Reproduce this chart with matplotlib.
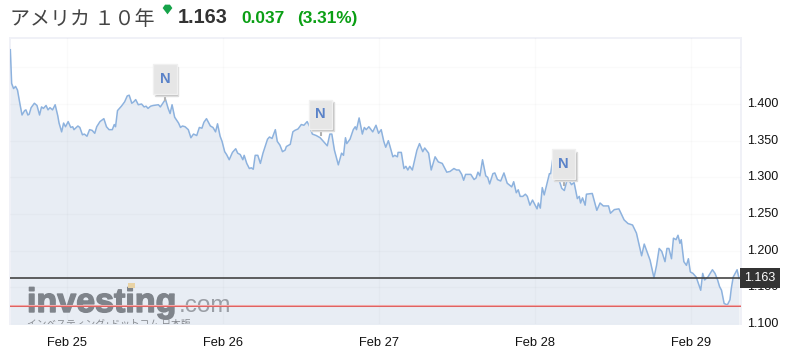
import matplotlib
matplotlib.use('Agg')
import matplotlib.pyplot as plt
import matplotlib.patheffects as pe
from matplotlib.lines import Line2D
from matplotlib.patches import Rectangle

plt.rcParams['font.family'] = ['Liberation Sans', 'DejaVu Sans']

# hours since Feb 25 00:00, and the yield
hours = [-8.8,-8.6,-8.3,-8.0,-7.7,-7.3,-7.0,-6.6,-6.4,-6.1,-5.9,-5.6,-5.1,-4.7,-4.3,-4.0,-3.7,-3.3,-3.0,-2.7,-2.3,-1.9,-1.5,-1.3,-0.9,-0.6,-0.3,0.1,0.5,0.8,1.0,1.6,1.9,2.3,2.6,3.0,3.4,3.8,4.2,4.5,5.0,5.6,6.0,6.4,6.9,7.2,7.4,7.7,8.3,8.8,9.2,9.5,9.9,10.2,10.5,10.9,11.4,11.8,12.1,12.4,12.8,13.2,14.0,14.3,14.9,15.1,15.5,15.8,16.1,16.5,17.1,17.4,17.7,
         18.1,18.6,19.0,19.4,19.9,20.3,20.7,21.0,21.4,22.0,22.4,22.8,23.1,23.5,23.8,24.2,24.5,24.9,25.4,25.9,26.2,26.6,27.0,27.2,27.6,28.0,28.3,28.6,28.9,29.3,29.7,30.1,30.8,31.1,31.5,32.0,32.3,32.7,33.1,33.5,33.7,34.3,34.7,35.0,35.5,36.0,36.4,36.9,37.3,37.7,38.3,38.9,39.4,40.0,40.4,40.7,41.1,41.7,42.2,42.5,42.8,43.0,43.5,44.0,44.3,
         44.5,44.9,45.4,45.7,46.0,46.4,47.0,47.5,47.9,48.3,48.7,49.0,49.4,49.6,50.1,50.4,50.8,50.9,51.4,51.8,52.1,52.4,52.7,53.1,53.8,54.2,54.7,55.0,55.6,56.0,56.6,57.1,57.7,58.4,58.9,59.5,59.9,60.3,60.7,61.0,61.3,62.1,62.6,62.9,63.2,63.5,63.9,64.4,64.7,65.0,65.5,65.8,66.2,66.7,67.2,67.7,68.4,68.7,69.1,69.4,69.7,70.1,70.5,70.8,71.2,71.6,72.3,72.5,72.8,73.1,73.4,73.9,74.2,74.4,74.7,
         75.6,76.1,76.5,77.0,77.6,78.0,78.5,78.8,79.0,79.3,79.7,79.9,80.8,81.5,82.0,82.5,83.3,83.6,84.2,84.9,85.7,86.3,87.0,87.6,88.1,88.4,88.8,89.7,90.3,90.7,91.1,91.5,92.0,92.3,92.6,93.0,93.3,93.7,94.0,94.3,94.5,94.9,95.3,95.6,95.9,96.3,96.8,97.5,97.8,98.1,98.6,99.3,99.7,100.1,100.4,100.7,101.1,101.6,102.0,102.2,102.5,103.1,103.4]
values = [1.474,1.428,1.421,1.424,1.419,1.399,1.385,1.391,1.392,1.385,1.386,1.395,1.401,1.398,1.385,1.396,1.394,1.398,1.392,1.395,1.392,1.399,1.384,1.374,1.362,1.374,1.369,1.376,1.368,1.369,1.365,1.370,1.368,1.358,1.359,1.356,1.365,1.364,1.360,1.369,1.376,1.380,1.369,1.365,1.365,1.372,1.369,1.391,1.397,1.403,1.411,1.412,1.401,1.403,1.406,1.399,1.400,1.396,1.397,1.394,1.397,1.398,1.399,1.396,1.404,1.406,1.394,1.387,1.399,1.382,1.374,1.368,1.370,
          1.369,1.365,1.354,1.359,1.357,1.368,1.367,1.375,1.380,1.370,1.368,1.362,1.373,1.356,1.349,1.335,1.331,1.324,1.334,1.339,1.333,1.331,1.324,1.330,1.319,1.312,1.313,1.311,1.330,1.330,1.319,1.333,1.352,1.355,1.353,1.365,1.349,1.344,1.335,1.337,1.342,1.345,1.362,1.364,1.366,1.372,1.371,1.376,1.369,1.359,1.357,1.354,1.349,1.343,1.359,1.359,1.337,1.317,1.333,1.330,1.354,1.346,1.352,1.365,1.369,
          1.365,1.381,1.359,1.368,1.365,1.369,1.362,1.371,1.360,1.365,1.349,1.341,1.350,1.344,1.328,1.330,1.328,1.334,1.334,1.312,1.315,1.310,1.315,1.310,1.337,1.346,1.335,1.340,1.333,1.310,1.328,1.321,1.319,1.307,1.308,1.312,1.310,1.310,1.304,1.296,1.304,1.304,1.297,1.299,1.307,1.302,1.324,1.302,1.300,1.291,1.305,1.306,1.297,1.295,1.306,1.292,1.287,1.294,1.279,1.283,1.274,1.274,1.277,1.274,1.262,1.269,1.257,1.265,1.258,1.286,1.276,1.294,1.305,1.305,1.324,
          1.299,1.285,1.282,1.299,1.290,1.293,1.271,1.274,1.265,1.272,1.262,1.277,1.278,1.255,1.265,1.261,1.261,1.251,1.256,1.257,1.242,1.237,1.235,1.224,1.205,1.193,1.209,1.187,1.163,1.180,1.203,1.199,1.185,1.203,1.203,1.189,1.217,1.215,1.221,1.210,1.215,1.185,1.180,1.189,1.171,1.169,1.164,1.146,1.169,1.160,1.164,1.174,1.169,1.160,1.151,1.146,1.128,1.126,1.133,1.148,1.164,1.174,1.162]

day_ticks = [0, 24, 48, 72, 96]
day_labels = ['Feb 25', 'Feb 26', 'Feb 27', 'Feb 28', 'Feb 29']
y_ticks = [1.10, 1.15, 1.20, 1.25, 1.30, 1.35, 1.40, 1.45]
y_labels = ['1.100', '1.150', '1.200', '1.250', '1.300', '1.350', '1.400', '']

news_hours = [15.0, 39.0, 76.4]
news_values = [1.406, 1.358, 1.290]

last_price = 1.163
low_price = 1.1245

W, H = 789, 356
fig = plt.figure(figsize=(W / 100, H / 100), dpi=100)
ax = fig.add_axes([9.5 / W, (H - 324) / H, 731.5 / W, 286 / H])
ax.set_xlim(-8.93, 103.7)
ax.set_ylim(1.10, 1.49)

ax.fill_between(hours, values, 1.0, color='#e8edf4', lw=0, zorder=1)
ax.grid(True, color='black', alpha=0.018, lw=1, zorder=2)
ax.set_axisbelow(False)
ax.plot(hours, values, color='#8db2de', lw=1.1, zorder=3)

ax.axhline(low_price, color='#f0a8a8', lw=1.5, zorder=5)
ax.axhline(low_price, color='#e0605f', lw=0.7, zorder=5)
ax.axhline(last_price, color='#444444', lw=1.2, zorder=5)

ax.set_xticks(day_ticks)
ax.set_xticklabels(day_labels, fontsize=9.3, color='#111111')
ax.yaxis.tick_right()
ax.set_yticks(y_ticks)
ax.set_yticklabels(y_labels, fontsize=9.0, color='#111111', va='center')
ax.tick_params(axis='x', length=0, pad=9.5)
ax.tick_params(axis='y', length=0, pad=4.5)
for s in ax.spines.values():
    s.set_color('#f0f1f7')
    s.set_linewidth(1.4)
ax.spines['bottom'].set_visible(False)

# news pins
box_w = 3.6
box_h = 0.040
for h, v in zip(news_hours, news_values):
    base = v + 0.008
    ax.plot([h, h], [v, base], color='#b0b0b0', lw=1.5, zorder=6)
    ax.add_patch(Rectangle((h - box_w / 2 + 0.25, base - 0.003), box_w, box_h, fc='#b8b8b8', ec='#dddddd', lw=1, zorder=6))
    ax.add_patch(Rectangle((h - box_w / 2, base), box_w, box_h, fc='#e6e6e6', ec='#f0f0f0', lw=1, zorder=7))
    ax.text(h, base + box_h / 2, 'N', color='#5a82c8', fontsize=10.5, fontweight='bold', ha='center', va='center', zorder=8)

# price tag on the axis
ytrans = ax.get_yaxis_transform()
ax.text(1.0045, last_price, '1.163', transform=ytrans, color='white', fontsize=9.0, va='center', ha='left', zorder=10,
        clip_on=False, bbox=dict(boxstyle='square,pad=0.32', fc='#333333', ec='none'))

# watermark
ax.text(17.5 / 731.5, 12 / 286, 'investing', transform=ax.transAxes, color='#7f848b', fontsize=24.5, fontweight='bold',
        ha='left', va='baseline', zorder=4, path_effects=[pe.withStroke(linewidth=1, foreground='#7f848b')])
ax.text(169 / 731.5, 12 / 286, '.com', transform=ax.transAxes, color='#9a9ea5', fontsize=17.5,
        ha='left', va='baseline', zorder=4)
ax.text(17.5 / 731.5, -3 / 286, 'インベスティング·ドットコム 日本版', transform=ax.transAxes, color='#85898f', fontsize=7,
        family=['Noto Sans CJK JP', 'DejaVu Sans'], ha='left', va='baseline', zorder=4, clip_on=True)
ax.add_patch(Rectangle((118.5 / 731.5, 36 / 286), 7 / 731.5, 5 / 286, transform=ax.transAxes, fc='#e9d3a5', ec='none', zorder=4))

# header
fig.text(10 / W, 1 - 25 / H, 'アメリカ １０年', fontsize=14.4, color='#444444', family=['Noto Sans CJK JP', 'DejaVu Sans'],
         ha='left', va='baseline')
fig.add_artist(Line2D([167 / W], [1 - 8.5 / H], marker=[(-1, 0.3), (-0.5, 1), (0.5, 1), (1, 0.3), (0, -1)], ms=7,
                      color='#16a34a', mec='none', ls='none', transform=fig.transFigure))
fig.text(178 / W, 1 - 23 / H, '1.163', fontsize=14.4, fontweight='bold', color='#333333', ha='left', va='baseline')
fig.text(241 / W, 1 - 23 / H, '0.037', fontsize=12.4, fontweight='bold', color='#0a9f14', ha='left', va='baseline')
fig.text(297 / W, 1 - 23 / H, '(3.31%)', fontsize=12.4, fontweight='bold', color='#0a9f14', ha='left', va='baseline')

fig.savefig('out.png', dpi=100)
